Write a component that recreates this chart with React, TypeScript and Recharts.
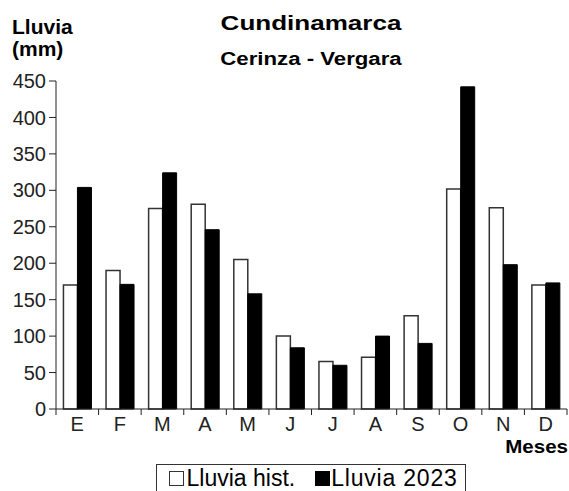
import { BarChart, Bar, XAxis, YAxis } from "recharts";

const months = ["E", "F", "M", "A", "M", "J", "J", "A", "S", "O", "N", "D"];
const lluviaHist = [170, 190, 275, 281, 205, 100, 65, 71, 128, 302, 276, 170];
const lluvia2023 = [304, 171, 324, 246, 158, 84, 60, 100, 90, 442, 198, 173];
const yTicks = [0, 50, 100, 150, 200, 250, 300, 350, 400, 450];

const data = months.map((m, i) => ({
  mes: m,
  hist: lluviaHist[i],
  y2023: lluvia2023[i],
}));

const FONT = '"Liberation Sans", Arial, sans-serif';
const AXIS = "#222";
const TICK_SIZE = 6;
const TICK_MARGIN = 2;

function MonthTick(props: any) {
  const { x, y, payload, index, visibleTicksCount } = props;
  const half = payload.offset || 0;
  const axisY = y - TICK_SIZE - TICK_MARGIN;
  const last = index === visibleTicksCount - 1;
  return (
    <g>
      <line x1={x - half} x2={x - half} y1={axisY} y2={axisY + TICK_SIZE} stroke={AXIS} />
      {last && (
        <line x1={x + half} x2={x + half} y1={axisY} y2={axisY + TICK_SIZE} stroke={AXIS} />
      )}
      <text x={x} y={y} dy="0.71em" textAnchor="middle" fontSize={20} fontFamily={FONT} fill="#222">
        {payload.value}
      </text>
    </g>
  );
}

export default function App() {
  return (
    <div
      style={{
        position: "absolute",
        left: 0,
        top: 0,
        width: 569,
        height: 491,
        overflow: "hidden",
        background: "#fff",
        fontFamily: FONT,
      }}
    >
      <BarChart
        width={569}
        height={491}
        data={data}
        margin={{ top: 81, right: 2, left: 0, bottom: 52 }}
        barCategoryGap="17.5%"
        barGap={0}
      >
        <XAxis
          dataKey="mes"
          interval={0}
          height={30}
          tickLine={false}
          tickSize={TICK_SIZE}
          tickMargin={TICK_MARGIN}
          axisLine={{ stroke: AXIS }}
          tick={<MonthTick />}
        />
        <YAxis
          width={56}
          domain={[0, 450]}
          ticks={yTicks}
          interval={0}
          tickSize={7}
          tickMargin={3}
          axisLine={{ stroke: AXIS }}
          tickLine={{ stroke: AXIS }}
          tick={{ fontSize: 20, fill: "#222", fontFamily: FONT }}
        />
        <Bar dataKey="hist" fill="#fff" stroke="#333" strokeWidth={1.5} isAnimationActive={false} />
        <Bar dataKey="y2023" fill="#000" stroke="#000" strokeWidth={1} isAnimationActive={false} />
      </BarChart>

      <svg
        width={569}
        height={491}
        style={{ position: "absolute", left: 0, top: 0, pointerEvents: "none" }}
      >
        <g fontFamily={FONT} fill="#000" fontWeight="bold">
          <text x={12} y={33.5} fontSize={21}>Lluvia</text>
          <text x={12} y={56} fontSize={21}>(mm)</text>
          <text transform="translate(311,30) scale(1.24,1)" fontSize={21} textAnchor="middle">
            Cundinamarca
          </text>
          <text transform="translate(311,65) scale(1.17,1)" fontSize={19} textAnchor="middle">
            Cerinza - Vergara
          </text>
          <text transform="translate(568,453) scale(1.14,1)" fontSize={18} textAnchor="end">
            Meses
          </text>
        </g>
      </svg>

      <div
        style={{
          position: "absolute",
          left: 156,
          top: 464,
          width: 310,
          height: 40,
          border: "1.5px solid #333",
          boxSizing: "border-box",
          fontSize: 23,
          lineHeight: "26px",
          whiteSpace: "nowrap",
          paddingLeft: 12,
          paddingTop: 0,
          color: "#000",
        }}
      >
        <span
          style={{
            display: "inline-block",
            boxSizing: "border-box",
            width: 15,
            height: 15,
            border: "1.3px solid #333",
            background: "#fff",
            marginRight: 2.5,
          }}
        />
        Lluvia hist.
        <span
          style={{
            display: "inline-block",
            width: 15,
            height: 15,
            background: "#000",
            marginLeft: 20,
            marginRight: 1,
          }}
        />
        <span style={{ letterSpacing: 0.8 }}>Lluvia 2023</span>
      </div>
    </div>
  );
}
